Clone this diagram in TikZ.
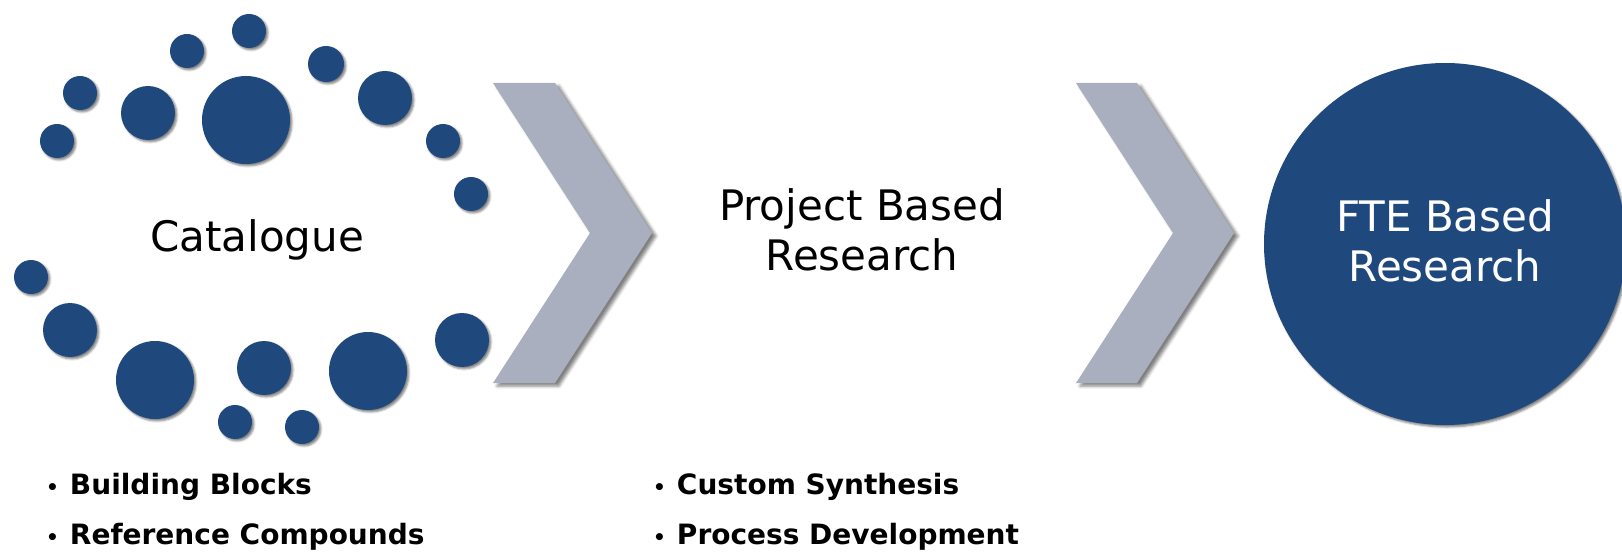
\documentclass[tikz,border=0pt]{standalone}
\usepackage{fontspec}
\setmainfont{DejaVu Sans}
\usepackage{tikz}
\usepackage{xcolor}
\usetikzlibrary{shapes, positioning, shadows.blur}

\definecolor{navy}{RGB}{31,73,125}
\definecolor{chevgray}{RGB}{169,175,191}
\newcommand{\headfont}{\fontsize{42}{50}\selectfont}
\newcommand{\itemfont}{\fontsize{28}{50}\selectfont\bfseries}
\newcommand{\itembullet}{{\fontsize{20}{20}\selectfont•}\hspace{11pt}}

\begin{document}
\begin{tikzpicture}[x=1pt, y=-1pt,
        dot/.style={fill=navy, blur shadow={shadow xshift=2pt, shadow yshift=-2pt, shadow blur radius=2pt, shadow opacity=50}},
        chevron/.style={fill=chevgray, blur shadow={shadow xshift=4pt, shadow yshift=-3pt, shadow blur radius=3pt, shadow opacity=50}},
        headtext/.style={font=\headfont, align=center, inner sep=0pt},
        itemtext/.style={font=\itemfont, anchor=base west, inner sep=0pt}]
        \useasboundingbox (0,0) rectangle (1622,553);

        \foreach \x/\y/\r in {249/31/17, 187/51/17, 80/93/17, 57/141/17, 148/113/27, 246/120/44,
                326/64/18, 385/98/27, 443/141/17, 471/194/17, 31/277/17, 70/330/27,
                155/380/39, 264/368/27, 368/371/39, 462/340/27, 235/422/17, 302/427/17}
            \fill[dot] (\x,\y) circle (\r);

        \fill[chevron] (493,83) -- (555,83) -- (652,233) -- (555,383) -- (493,383) -- (590,233) -- cycle;
        \fill[chevron] (1076,83) -- (1137,83) -- (1234,233) -- (1137,383) -- (1076,383) -- (1173,233) -- cycle;

        \node[circle, dot, minimum size=362pt, inner sep=0pt] (fte) at (1445,244) {};

        \node[headtext, anchor=base] (cat) at (257,252) {Catalogue};
        \node[headtext] (pbr) at (862,230) {Project Based\\Research};
        \node[headtext, white] (ftetext) at (1445,241) {FTE Based\\Research};

        \node[itemtext] (b1) at (46,494) {\itembullet Building Blocks};
        \node[itemtext] (b2) at (46,544) {\itembullet Reference Compounds};
        \node[itemtext] (b3) at (653,494) {\itembullet Custom Synthesis};
        \node[itemtext] (b4) at (653,544) {\itembullet Process Development};
    \end{tikzpicture}
\end{document}
